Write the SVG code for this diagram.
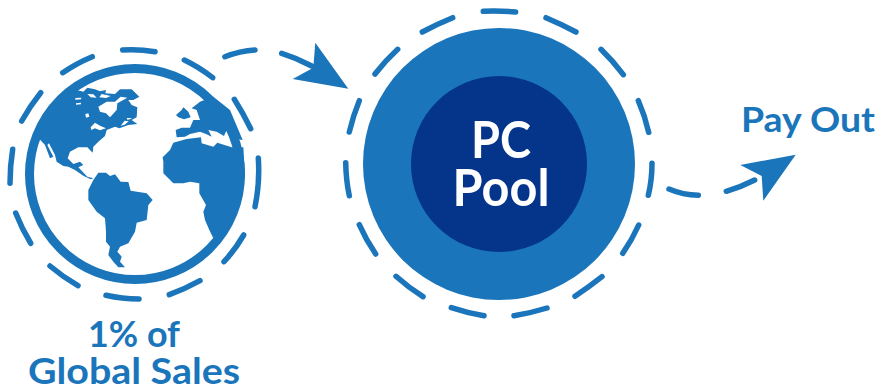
<svg xmlns="http://www.w3.org/2000/svg" width="884" height="387" viewBox="0 0 884 387">
<style>
.dash{fill:none;stroke:#1a75bb;stroke-width:5.5;stroke-linecap:round}
.blue{fill:#1a75bb}
.hole{fill:#fff}
text{font-family:"Lato","Liberation Sans",sans-serif;font-weight:700}
.lbl{fill:#1a75bb}
.wh{fill:#fff}
</style>
<rect width="884" height="387" fill="#fff"/>
<g id="globe">
<g transform="translate(0,30) scale(.33333)">
<path class="blue" d="M222 178L250 185L262 173L285 178L300 184L318 180L316 190L345 192L360 178L395 178L418 200L400 210L385 210L395 225L412 232L410 262L395 270L412 282L385 285L358 295L345 290L320 300L315 318L295 335L280 350L278 368L262 352L235 352L210 365L203 385L220 402L240 395L250 405L235 412L262 440L280 445L272 448L250 437L225 420L205 410L190 408L170 395L165 375L147 340L142 345L160 380L150 385L135 345L112 320L140 250Z"/>
<path class="hole" d="M295 230L320 215L345 215L362 200L382 203L352 220L350 240L330 262L318 250L300 245ZM272 292L285 278L300 287L318 295L300 301L285 295L274 300ZM256 252L265 250L268 260L258 263ZM226 204L244 203L243 208L226 209ZM228 220L243 218L243 223L228 224ZM262 192L280 193L290 203L272 202ZM305 192L332 198L318 204L298 202ZM362 287L374 272L386 274L374 284ZM380 264L396 264L390 268L382 269Z"/>
<path class="blue" d="M295 428L318 428L330 438L345 433L362 455L385 456L392 482L440 490L458 510L445 525L440 570L410 578L405 605L385 640L360 650L352 665L365 680L360 695L375 712L355 712L340 695L325 675L330 650L318 635L318 605L315 565L290 545L265 510L265 480L280 450Z"/>
<path class="blue" d="M520 338L560 327L603 322L605 340L640 350L652 338L695 352L730 352L735 440L700 560L640 625L628 600L615 570L610 545L618 525L598 490L598 460L570 455L550 460L520 460L490 430L490 395L488 382L510 360Z"/>
<path class="blue" d="M530 322L527 300L545 293L570 293L580 270L600 270L590 240L575 235L600 215L640 200L690 240L728 330L695 325L680 300L672 318L650 305L625 300L635 320L618 312L600 305L570 312L555 320Z"/>
<path class="blue" d="M528 255L545 240L550 232L565 245L572 262L552 268L535 262Z"/>
</g>
<circle cx="135" cy="174" r="105.5" fill="none" stroke="#1a75bb" stroke-width="9"/>
<g class="dash">
<path d="M122.7 50Q139 49 155 51.7"/>
<path d="M184.3 60Q199 67 212.7 77.7"/>
<path d="M234.3 99.3Q243 113 250.7 128.7"/>
<path d="M258.3 158Q260 183 255 206.7"/>
<path d="M243.7 235Q235 250 224 261.7"/>
<path d="M200 280.7Q185 289 169.3 294.7"/>
<path d="M139 299Q122 299 106 295.3"/>
<path d="M78 285.7Q63 277 50 266"/>
<path d="M30.7 243.3Q22 229 15.7 213"/>
<path d="M10 183.3Q10 166 12.7 149.3"/>
<path d="M21.7 121Q30 106 40.7 92.7"/>
<path d="M62.7 72.7Q77 63 92.3 56.7"/>
</g>
</g>
<g id="pool">
<circle class="blue" cx="499" cy="164" r="136"/>
<circle cx="499" cy="164" r="88" fill="#05348b"/>
<text class="wh" x="501" y="158" font-size="52" text-anchor="middle" textLength="60" lengthAdjust="spacingAndGlyphs">PC</text>
<text class="wh" x="501" y="206" font-size="52" text-anchor="middle" textLength="97" lengthAdjust="spacingAndGlyphs">Pool</text>
<g class="dash">
<path d="M483.3 11.3Q499 10.5 515.7 12"/>
<path d="M546 17.7Q561 24 576 32"/>
<path d="M601 49.3Q613 61 623.3 74.7"/>
<path d="M638.3 100.7Q645 116 648.7 132.3"/>
<path d="M652 163.3Q652 180 648.3 195.3"/>
<path d="M638.7 225Q632 240 622.7 253.3"/>
<path d="M602 276.7Q589 287 575 296.3"/>
<path d="M547 308Q531 313 514 315.7"/>
<path d="M484 315.7Q467 313 451.3 307.7"/>
<path d="M423 296.7Q409 288 396 276.3"/>
<path d="M375.7 254Q366 240 359.3 224.7"/>
<path d="M349.3 195.7Q346 180 345.7 162.7"/>
<path d="M349.3 132Q353 116 359.3 100.7"/>
<path d="M375 74Q385 61 397.7 49.3"/>
<path d="M422.3 32Q437 24 452.7 17.7"/>
</g>
</g>
<g id="connectors">
<g class="dash">
<path d="M224.9 56.7Q240 51 255 50"/>
<path d="M281.7 53.3Q297 58 311.7 66"/>
<path d="M669 189Q683 195 698.3 195.3"/>
<path d="M726.3 191.3Q741 187 754.7 180"/>
</g>
<path class="blue" d="M315.3 42.7L348.3 88.7L292.7 79L313.3 67.7Z"/>
<path class="blue" d="M795.7 154.7L763.3 200.7L761.7 176L740.3 165Z"/>
</g>
<g id="labels">
<text class="lbl" x="134" y="347" font-size="37" text-anchor="middle" textLength="92" lengthAdjust="spacingAndGlyphs">1% of</text>
<text class="lbl" x="134" y="384" font-size="37" text-anchor="middle" textLength="212" lengthAdjust="spacingAndGlyphs">Global Sales</text>
<text class="lbl" x="808" y="132" font-size="34" text-anchor="middle" textLength="134" lengthAdjust="spacingAndGlyphs">Pay Out</text>
</g>
</svg>
